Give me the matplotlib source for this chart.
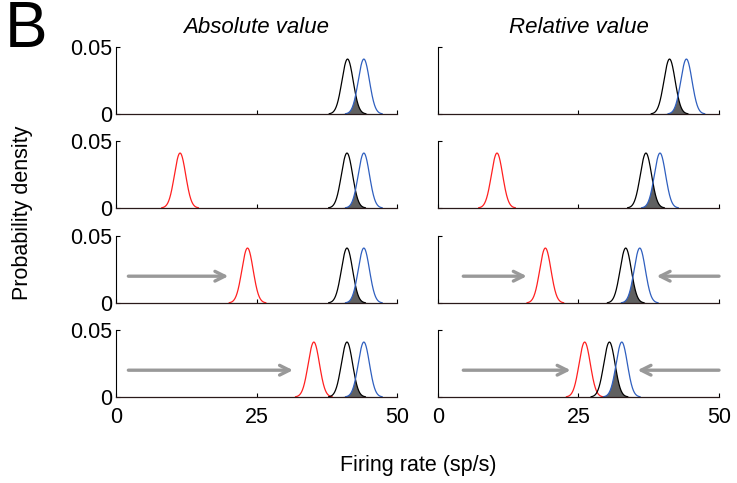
import numpy as np
import matplotlib
matplotlib.use("Agg")
import matplotlib.pyplot as plt

plt.rcParams['font.family'] = ['Liberation Sans', 'DejaVu Sans']

col_titles = ["Absolute value", "Relative value"]
x_ticks = [0, 25, 50]
x_tick_labels = ["0", "25", "50"]
y_ticks = [0, 0.05]
y_tick_labels = ["0", "0.05"]

# peak positions (sp/s) of each distribution, rows top -> bottom
black_abs = [41.2, 41.1, 41.1, 41.1]
blue_abs = [44.1, 44.1, 44.1, 44.1]
red_abs = [None, 11.4, 23.4, 35.2]
black_rel = [41.2, 37.0, 33.4, 30.5]
blue_rel = [44.2, 39.5, 35.9, 32.7]
red_rel = [None, 10.5, 19.1, 26.1]
peak_height = 0.041
spread = 1.0

# arrows: (x_start, x_end) in sp/s, y level
arrow_y = 0.02
arrows_abs = [[], [], [(2.2, 20.0)], [(2.2, 31.5)]]
arrows_rel = [[], [], [(4.5, 15.8), (50.0, 38.9)], [(4.5, 23.6), (50.0, 35.5)]]

fig = plt.figure(figsize=(7.37, 4.83), dpi=100)

xs = np.linspace(0, 50, 2001)


def bump(mu):
    return peak_height * np.exp(-(xs - mu) ** 2 / (2 * spread ** 2))


def visible(y):
    out = y.copy()
    out[out < 2e-4] = np.nan
    return out


lefts = [116 / 737, 438 / 737]
width = 281 / 737
bottoms_px = [114, 208, 303, 397]
height = 67 / 483

cols = [(black_abs, blue_abs, red_abs, arrows_abs),
        (black_rel, blue_rel, red_rel, arrows_rel)]

FS = 15.5

for c, (blk, blu, red, arr) in enumerate(cols):
    for r in range(4):
        ax = fig.add_axes([lefts[c], 1 - bottoms_px[r] / 483, width, height])
        yb = bump(blk[r])
        yl = bump(blu[r])
        ax.fill_between(xs, 0, np.minimum(yb, yl), facecolor='#606060',
                        edgecolor='none', lw=0, zorder=1)
        if red[r] is not None:
            ax.plot(xs, visible(bump(red[r])), color='#ff2020', lw=0.9, zorder=2)
        ax.plot(xs, visible(yb), color='black', lw=0.9, zorder=3)
        ax.plot(xs, visible(yl), color='#2f5fbf', lw=0.9, zorder=3)
        for (x0, x1) in arr[r]:
            ax.annotate('', xy=(x1, arrow_y), xytext=(x0, arrow_y),
                        arrowprops=dict(arrowstyle='->,head_length=0.7,head_width=0.35',
                                        color='#999999', lw=2.4, shrinkA=0, shrinkB=0))
        ax.set_xlim(0, 50)
        ax.set_ylim(0, 0.05)
        ax.spines['top'].set_visible(False)
        ax.spines['right'].set_visible(False)
        ax.spines['left'].set_linewidth(0.8)
        ax.spines['bottom'].set_linewidth(0.9)
        ax.spines['bottom'].set_color('#2a1a1a')
        ax.spines['left'].set_zorder(5)
        ax.spines['bottom'].set_zorder(5)
        ax.set_xticks(x_ticks)
        ax.set_yticks(y_ticks)
        ax.tick_params(direction='in', length=3, width=0.8, labelsize=FS, pad=3)
        ax.tick_params(axis='x', pad=7)
        if r == 3:
            ax.set_xticklabels(x_tick_labels)
        else:
            ax.set_xticklabels([])
        if c == 0:
            ax.set_yticklabels(y_tick_labels)
        else:
            ax.set_yticklabels([])
        if r == 0:
            ax.set_title(col_titles[c], fontsize=FS + 0.5, style='italic', pad=10)
        ax.patch.set_visible(False)

fig.text(0.006, 1.0, "B", fontsize=46, va='top', ha='left')
fig.text(0.03, 0.56, "Probability density", rotation=90, fontsize=FS,
         va='center', ha='center')
fig.text(0.567, 0.037, "Firing rate (sp/s)", fontsize=FS, va='center', ha='center')

fig.savefig("out.png", dpi=100)
